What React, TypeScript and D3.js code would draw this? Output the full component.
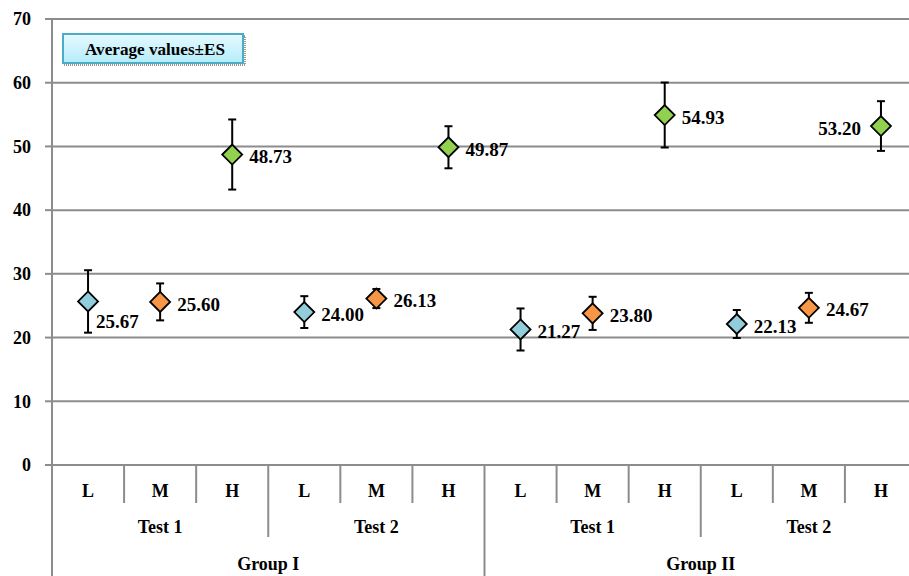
import React from "react";
import * as d3 from "d3";

const groups = ["Group I", "Group II"];
const tests = ["Test 1", "Test 2"];
const levels = ["L", "M", "H"];
// values per group -> test -> level
const means = [
  [25.67, 25.6, 48.73],
  [24.0, 26.13, 49.87],
  [21.27, 23.8, 54.93],
  [22.13, 24.67, 53.2],
];
const errors = [
  [4.9, 2.9, 5.5],
  [2.5, 1.5, 3.3],
  [3.3, 2.6, 5.1],
  [2.2, 2.35, 3.9],
];
const yTicks = [0, 10, 20, 30, 40, 50, 60, 70];
const legendText = "Average values±ES";

const levelColors = ["#92CDDC", "#F79646", "#92D050"];
// label placement: [dx, dy, anchor]
const labelPlace: Record<number, [number, number, string]> = {
  0: [8, 20, "start"],
  11: [-20, 2, "end"],
};

export default function App() {
  const W = 909, H = 576;
  const left = 52, right = 917, top = 19, bottom = 465;
  const leaves: { g: number; t: number; l: number; key: string }[] = [];
  groups.forEach((_, g) => tests.forEach((_, t) => levels.forEach((_, l) => leaves.push({ g, t, l, key: `${g}-${t}-${l}` }))));
  const x = d3.scaleBand().domain(leaves.map((d) => d.key)).range([left, right]).padding(0);
  const y = d3.scaleLinear().domain([0, 70]).range([bottom, top]);
  const bw = x.bandwidth();
  const font = "Liberation Serif, Times New Roman, serif";
  const grid = "#8c8c8c";
  const r = 10;

  return (
    <svg width={W} height={H} style={{ position: "absolute", left: 0, top: 0 }} fontFamily={font}>
      <defs>
        <linearGradient id="lg" x1="0" y1="0" x2="0" y2="1">
          <stop offset="0" stopColor="#E6FAFF" />
          <stop offset="1" stopColor="#B4ECFB" />
        </linearGradient>
      </defs>
      <rect width={W} height={H} fill="#fff" />
      {yTicks.map((v) => (
        <g key={v}>
          {v > 0 && <line x1={left} x2={W} y1={y(v)} y2={y(v)} stroke={grid} strokeWidth={2} />}
          <line x1={left - 7} x2={left} y1={y(v)} y2={y(v)} stroke={grid} strokeWidth={2} />
          <text x={31} y={y(v)} dy="0.35em" textAnchor="end" fontSize={18} fontWeight="bold">{v}</text>
        </g>
      ))}
      <line x1={left} x2={W} y1={bottom} y2={bottom} stroke={grid} strokeWidth={2} />
      <line x1={left} x2={left} y1={top} y2={H} stroke={grid} strokeWidth={2} />
      {leaves.map((d, i) => {
        const x0 = x(d.key)!;
        const items = [];
        if (i > 0) {
          const len = d.l !== 0 ? 503 : d.t !== 0 ? 537 : H;
          items.push(<line key="s" x1={x0} x2={x0} y1={bottom} y2={len} stroke={grid} strokeWidth={2} />);
        }
        items.push(
          <text key="t" x={x0 + bw / 2} y={491} dy="0.35em" textAnchor="middle" fontSize={18} fontWeight="bold">{levels[d.l]}</text>
        );
        return <g key={d.key}>{items}</g>;
      })}
      {groups.map((gName, g) =>
        tests.map((tName, t) => {
          const k0 = `${g}-${t}-0`, k2 = `${g}-${t}-2`;
          const cx = (x(k0)! + x(k2)! + bw) / 2;
          return <text key={`${g}${t}`} x={cx} y={527} dy="0.35em" textAnchor="middle" fontSize={18} fontWeight="bold">{tName}</text>;
        })
      )}
      {groups.map((gName, g) => {
        const k0 = `${g}-0-0`, k2 = `${g}-1-2`;
        const cx = (x(k0)! + x(k2)! + bw) / 2;
        return <text key={g} x={cx} y={564} dy="0.35em" textAnchor="middle" fontSize={18} fontWeight="bold">{gName}</text>;
      })}
      <line x1={right} x2={right} y1={bottom} y2={H} stroke={grid} strokeWidth={2} />
      {leaves.map((d, i) => {
        const row = d.g * 2 + d.t;
        const v = means[row][d.l];
        const e = errors[row][d.l];
        const cx = x(d.key)! + bw / 2;
        const cy = y(v);
        const place = labelPlace[i] || [17, 2, "start"];
        return (
          <g key={d.key}>
            <line x1={cx} x2={cx} y1={y(v + e)} y2={y(v - e)} stroke="#000" strokeWidth={2} />
            <line x1={cx - 4} x2={cx + 4} y1={y(v + e)} y2={y(v + e)} stroke="#000" strokeWidth={2} />
            <line x1={cx - 4} x2={cx + 4} y1={y(v - e)} y2={y(v - e)} stroke="#000" strokeWidth={2} />
            <path d={`M${cx},${cy - r}L${cx + r},${cy}L${cx},${cy + r}L${cx - r},${cy}Z`} fill={levelColors[d.l]} stroke="#000" strokeWidth={1.8} />
            <text x={cx + place[0]} y={cy + place[1]} dy="0.35em" textAnchor={place[2] as any} fontSize={19} fontWeight="bold">{v.toFixed(2)}</text>
          </g>
        );
      })}
      <rect x={64} y={36} width={181} height={29} fill="none" stroke="#333" strokeWidth={1} strokeDasharray="1,1" />
      <rect x={63} y={34} width={180} height={29} fill="url(#lg)" stroke="#4BACC6" strokeWidth={2} />
      <text x={155} y={49} dy="0.35em" textAnchor="middle" fontSize={17} fontWeight="bold" textLength={140} lengthAdjust="spacingAndGlyphs">
        {legendText}
      </text>
    </svg>
  );
}
